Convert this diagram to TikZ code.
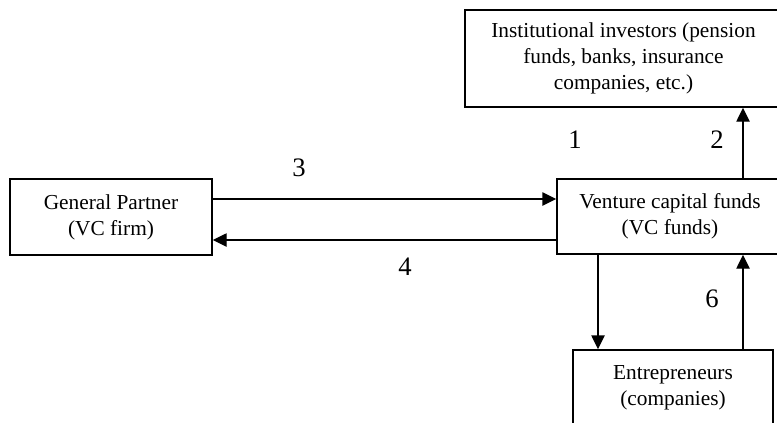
\documentclass[tikz,border=0pt]{standalone}
\usepackage{fontspec}
\setmainfont{Liberation Serif}
\usetikzlibrary{arrows.meta}
\begin{document}
\begin{tikzpicture}[x=0.75pt,y=-0.75pt,
  box/.style={draw,line width=1.1pt,rectangle,inner sep=0pt,align=center,
    font=\fontsize{16}{19.5}\selectfont},
  lbl/.style={font=\fontsize{20}{24}\selectfont,inner sep=0pt},
  arr/.style={line width=1.1pt,-{Triangle[length=10.5pt,width=10pt]}}]
\useasboundingbox (0,0) rectangle (777,422);
\node[box,minimum width=237.75pt,minimum height=72.75pt] (inv) at (623.5,58.5)
  {Institutional investors (pension\\funds, banks, insurance\\companies, etc.)};
\node[box,minimum width=169.5pt,minimum height=56.25pt] (vc) at (670,216.5)
  {Venture capital funds\\(VC funds)};
\node[box,minimum width=151.5pt,minimum height=57pt] (gp) at (111,217)
  {General Partner\\(VC firm)};
\node[box,minimum width=150pt,minimum height=56.25pt] (ent) at (673,387.5)
  {Entrepreneurs\\(companies)};
\coordinate (xr) at (743,0);
\coordinate (xl) at (598,0);
\coordinate (y3) at (0,199);
\coordinate (y4) at (0,240);
\draw[arr] (vc.north -| xr) -- (inv.south -| xr);
\draw[arr] (gp.east |- y3) -- (vc.west |- y3);
\draw[arr] (vc.west |- y4) -- (gp.east |- y4);
\draw[arr] (vc.south -| xl) -- (ent.north -| xl);
\draw[arr] (ent.north -| xr) -- (vc.south -| xr);
\node[lbl] (l1) at (575,140) {1};
\node[lbl] (l2) at (717,140) {2};
\node[lbl] (l3) at (299,168) {3};
\node[lbl] (l4) at (405,267) {4};
\node[lbl] (l6) at (712,299) {6};
\end{tikzpicture}
\end{document}
